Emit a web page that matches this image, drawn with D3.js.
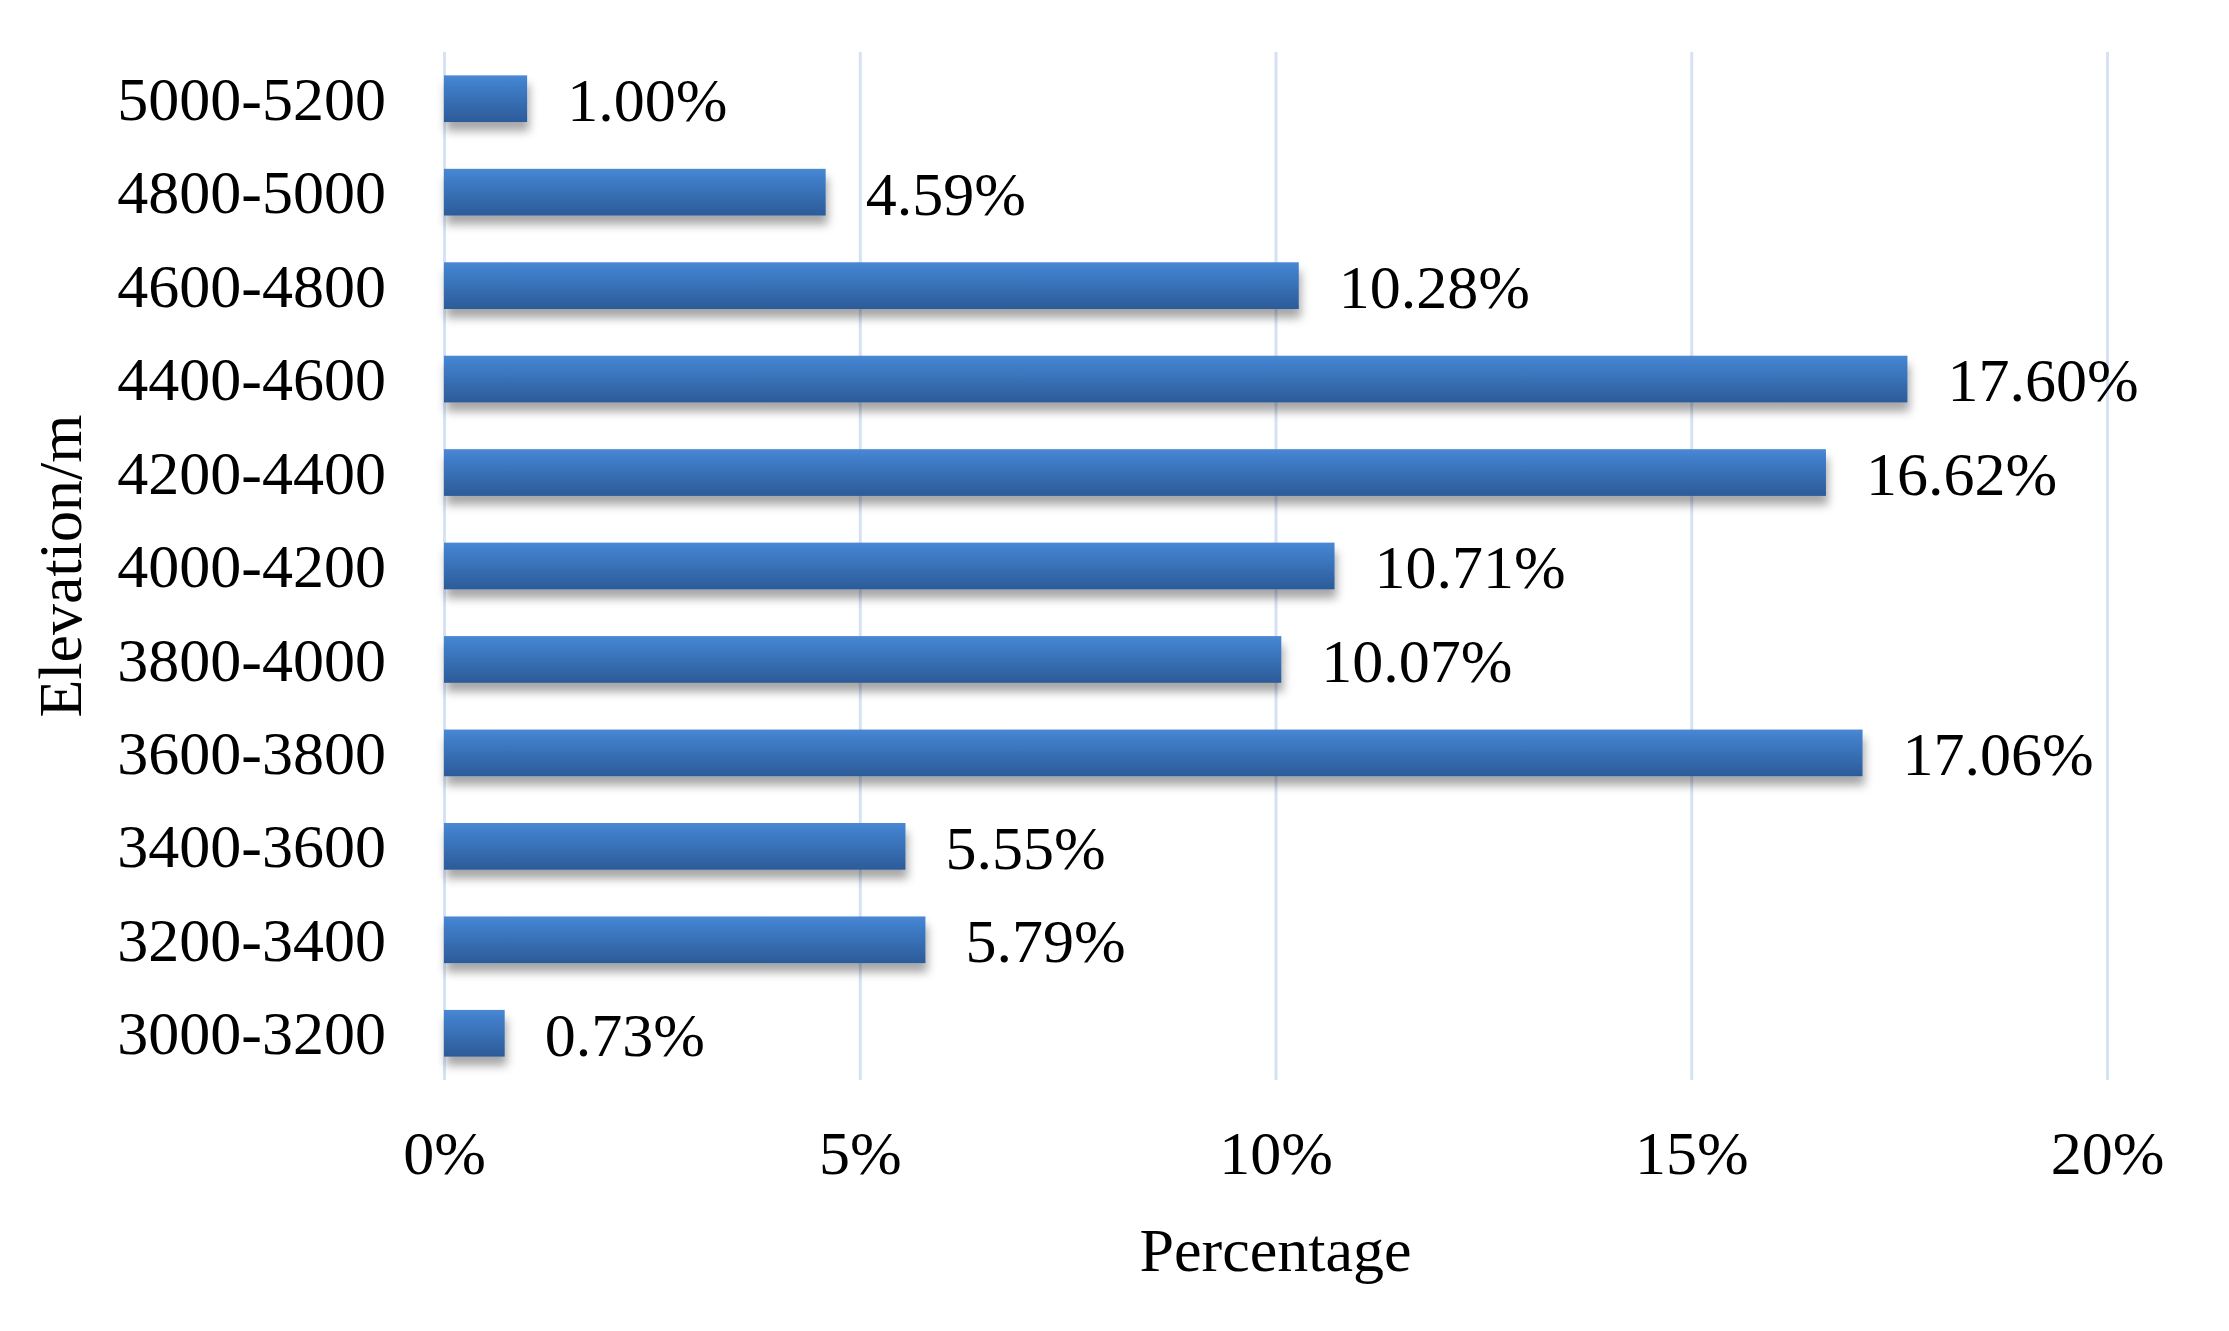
<!DOCTYPE html>
<html>
<head>
<meta charset="utf-8">
<script src="https://cdn.jsdelivr.net/npm/d3@7"></script>
<style>
  body { margin: 0; background: #fff; }
  text { font-family: "Liberation Serif", "Times New Roman", serif; fill: #000; }
</style>
</head>
<body>
<svg width="2229" height="1331"></svg>
<script>
const categories = ['5000-5200', '4800-5000', '4600-4800', '4400-4600', '4200-4400',
  '4000-4200', '3800-4000', '3600-3800', '3400-3600', '3200-3400', '3000-3200'];
const percentages = [1.00, 4.59, 10.28, 17.60, 16.62, 10.71, 10.07, 17.06, 5.55, 5.79, 0.73];
const xTicks = [0, 5, 10, 15, 20];

const data = categories.map((c, i) => ({ category: c, value: percentages[i] }));

const svg = d3.select('svg');
const margin = { top: 52, right: 122, bottom: 251, left: 444 };
const width = +svg.attr('width');
const height = +svg.attr('height');
const innerWidth = width - margin.left - margin.right;
const innerHeight = height - margin.top - margin.bottom;

const defs = svg.append('defs');
const grad = defs.append('linearGradient')
    .attr('id', 'barGrad')
    .attr('x1', 0).attr('y1', 0).attr('x2', 0).attr('y2', 1);
grad.append('stop').attr('offset', '0%').attr('stop-color', '#4a88d4');
grad.append('stop').attr('offset', '15%').attr('stop-color', '#4180cc');
grad.append('stop').attr('offset', '100%').attr('stop-color', '#2c5b98');

const shadow = defs.append('filter')
    .attr('id', 'shadow')
    .attr('x', '-10%').attr('y', '-30%').attr('width', '130%').attr('height', '180%');
shadow.append('feDropShadow')
    .attr('dx', 2).attr('dy', 9).attr('stdDeviation', 5)
    .attr('flood-color', '#000').attr('flood-opacity', 0.35);

const xScale = d3.scaleLinear()
  .domain([0, 20])
  .range([0, innerWidth]);

const yScale = d3.scaleBand()
  .domain(categories)
  .range([0, innerHeight])
  .paddingInner(0.5)
  .paddingOuter(0.25);

const g = svg.append('g')
    .attr('transform', `translate(${margin.left},${margin.top})`);

// gridlines + tick labels
const xAxis = d3.axisBottom(xScale)
  .tickValues(xTicks)
  .tickSize(innerHeight)
  .tickPadding(50)
  .tickFormat(d => d + '%');

const xAxisG = g.append('g').call(xAxis);
xAxisG.select('.domain').remove();
xAxisG.selectAll('.tick line')
    .attr('stroke', '#d5e2f3')
    .attr('stroke-width', 3);
xAxisG.selectAll('.tick text')
    .attr('font-size', 62)
    .attr('font-family', '"Liberation Serif", "Times New Roman", serif')
    .attr('fill', '#000');

// category labels
const yAxis = d3.axisLeft(yScale).tickSize(0).tickPadding(58);
const yAxisG = g.append('g').call(yAxis);
yAxisG.select('.domain').remove();
yAxisG.selectAll('.tick text')
    .attr('font-size', 62)
    .attr('font-family', '"Liberation Serif", "Times New Roman", serif')
    .attr('fill', '#000')
    .attr('dy', '0.34em');

// bars
g.selectAll('rect.bar').data(data)
  .enter().append('rect')
    .attr('class', 'bar')
    .attr('x', 0)
    .attr('y', d => yScale(d.category))
    .attr('width', d => xScale(d.value))
    .attr('height', yScale.bandwidth())
    .attr('fill', 'url(#barGrad)')
    .attr('filter', 'url(#shadow)');

// value labels
g.selectAll('text.value').data(data)
  .enter().append('text')
    .attr('class', 'value')
    .attr('x', d => xScale(d.value) + 40)
    .attr('y', d => yScale(d.category) + yScale.bandwidth() / 2)
    .attr('dy', '0.36em')
    .attr('font-size', 62)
    .text(d => d.value.toFixed(2) + '%');

// axis titles
svg.append('text')
    .attr('x', margin.left + innerWidth / 2)
    .attr('y', 1271)
    .attr('text-anchor', 'middle')
    .attr('font-size', 62)
    .text('Percentage');

svg.append('text')
    .attr('transform', `translate(81,${margin.top + innerHeight / 2}) rotate(-90)`)
    .attr('text-anchor', 'middle')
    .attr('font-size', 62)
    .text('Elevation/m');
</script>
</body>
</html>
